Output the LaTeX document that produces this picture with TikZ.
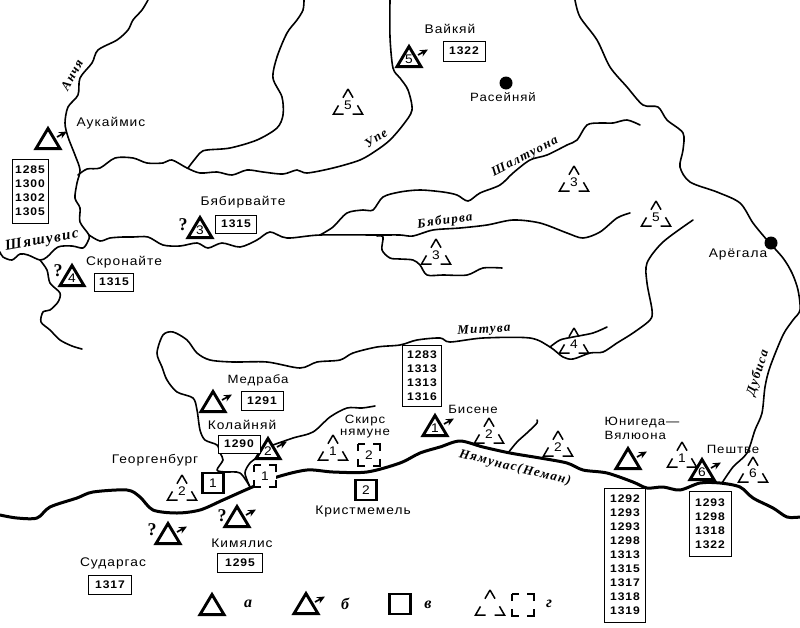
\documentclass[tikz,border=0pt]{standalone}
\usepackage{fontspec}
\setmainfont[FakeStretch=1.1,LetterSpace=8]{Liberation Sans}
\newfontfamily\riverfont[LetterSpace=10]{Liberation Serif}
\usetikzlibrary{arrows.meta}
\tikzset{
  river/.style={line width=1.6pt,line join=round,line cap=round},
  bigriver/.style={line width=3pt,line join=round,line cap=round},
  sitetri/.style={draw,fill=white,line width=2.9pt,line join=miter},
  dashtri/.style={draw,line width=1.5pt,dash pattern=on 20pt off 8.9pt,dash phase=10pt},
  sitesq/.style={draw,fill=white,line width=2.8pt},
  dashsq/.style={draw,fill=white,line width=1.5pt,dash pattern=on 14pt off 8pt,dash phase=7pt},
  siteno/.style={font=\fontsize{12.5}{12}\selectfont,inner sep=0pt},
  placename/.style={font=\fontsize{12.5}{12.5}\selectfont,align=center,inner sep=0pt},
  datebox/.style={draw,fill=white,line width=0.9pt,inner sep=0pt,align=center,
    font=\fontsize{11}{14}\selectfont\bfseries},
  rivername/.style={font=\fontsize{13}{13}\selectfont\riverfont\itshape\bfseries,inner sep=0pt},
  legendname/.style={font=\fontsize{16}{16}\selectfont\riverfont\itshape\bfseries,inner sep=0pt},
  query/.style={font=\fontsize{18}{18}\selectfont\riverfont\bfseries,inner sep=0pt},
  towndot/.style={fill=black,circle,minimum size=13pt,inner sep=0pt},
  findarrow/.style={-{Stealth[length=8pt,width=7pt]},line width=1.7pt}
}
\begin{document}
\begin{tikzpicture}[x=1pt,y=-1pt]
  \useasboundingbox (0,0) rectangle (800,627);
  % rivers
  \draw[river] plot[smooth,tension=0.5] coordinates {(148,0) (142,10) (133,20) (128,30) (117,40) (98,50) (92,63) (80,78) (78,95) (68,107) (65,123) (68,137) (75,155) (80,170) (77,183) (75,198) (80,208) (80,222) (89,235) (88,241) (83,248) (72,246) (58,247) (47,257) (40,260) (28,255) (20,254) (12,260) (3,257) (0,252)};
  \draw[river] plot[smooth,tension=0.5] coordinates {(40,260) (47,270) (50,283) (60,293) (58,302) (50,310) (43,312) (41,322) (50,330) (60,340) (72,346) (82,349)};
  \draw[river] plot[smooth,tension=0.5] coordinates {(78,175) (87,169) (100,168) (115,158) (133,158) (147,163) (163,163) (172,160) (187,168) (200,173) (217,172) (232,175) (247,170) (263,172) (283,174) (297,170) (307,173) (333,168) (360,160) (377,150) (390,140) (403,125) (412,110) (408,90) (400,78) (393,68) (390,37) (390,0)};
  \draw[river] plot[smooth,tension=0.5] coordinates {(188,168) (200,153) (207,150) (230,148) (257,140) (277,128) (283,115) (282,97) (273,78) (277,57) (287,33) (297,20) (303,10) (304,0)};
  \draw[river] plot[smooth,tension=0.5] coordinates {(89,235) (100,241) (110,238) (123,237) (133,237) (148,237) (163,245) (180,246) (197,243) (208,248) (222,243) (240,247) (257,240) (270,232) (287,238) (320,235) (377,235) (400,235) (413,236) (433,230) (460,228) (487,225) (513,220) (540,223) (567,233) (583,238) (600,232) (617,218) (630,213)};
  \draw[river] plot[smooth,tension=0.5] coordinates {(320,235) (333,227) (347,213) (363,210) (373,210) (383,197) (400,192) (420,190) (443,192) (457,195) (468,201) (480,193) (500,185) (513,173) (530,160) (547,155) (567,145) (577,140) (587,125) (600,123) (613,123) (627,120) (640,125)};
  \draw[river] plot[smooth,tension=0.5] coordinates {(377,236) (383,237) (382,250) (390,258) (400,259) (413,260) (420,265) (427,275) (443,275) (467,275) (483,268) (502,268)};
  \draw[river] plot[smooth,tension=0.5] coordinates {(575,0) (580,17) (597,40) (610,67) (627,87) (643,105) (658,107) (667,120) (683,133) (683,150) (680,167) (690,182) (717,192) (740,203) (753,223) (767,240) (783,258) (792,273) (798,290) (800,310) (793,320) (783,335) (770,367) (765,387) (762,413) (755,430) (747,453) (733,467) (722,483)};
  \draw[river] plot[smooth,tension=0.5] coordinates {(250,487) (240,473) (225,472) (217,470) (223,460) (220,453) (217,445) (205,440) (200,430) (197,410) (193,398) (177,392) (167,380) (162,367) (157,353) (163,335) (173,332) (187,340) (197,353) (210,360) (233,362) (267,362) (300,368) (317,362) (340,360) (353,353) (377,347) (400,345) (417,340) (440,338) (450,342) (483,338) (530,338) (550,347) (563,357) (573,359) (590,353) (603,352) (617,343) (633,333) (650,320) (652,310) (647,283) (647,263) (663,242) (693,220)};
  \draw[river] plot[smooth,tension=0.5] coordinates {(550,347) (560,340) (573,337) (593,333) (607,327)};
  \draw[river] plot[smooth,tension=0.5] coordinates {(250,487) (245,473) (250,463) (258,457)};
  \draw[river] plot[smooth,tension=0.5] coordinates {(273,445) (293,438) (313,432) (330,417) (347,408) (362,408) (375,406)};
  \draw[river] plot[smooth,tension=0.5] coordinates {(508,453) (517,442) (528,432) (537,423) (537,420)};
  \draw[bigriver] plot[smooth,tension=0.5] coordinates {(0,515) (17,518) (37,518) (50,507) (77,498) (93,492) (127,490) (140,497) (153,510) (177,513) (200,510) (223,500) (250,488) (277,477) (307,470) (333,472) (367,472) (400,463) (420,453) (440,447) (460,441) (483,447) (510,453) (540,458) (567,463) (583,470) (607,473) (633,482) (647,488) (663,487) (680,490) (700,483) (720,483) (740,487) (753,498) (773,508) (787,517) (800,517)};
  % finds with arrow, then without
  \foreach \px/\py/\num/\nm in {48/150//aukaimis,409/68/5/vaikiai,213/413//medraba,268/460/2/kolainiai,168/545//sudargas,237/528//kimialis,306/615//legendb,435/437/1/bisene,628/470//unigeda,702/481/6/peshtve} {
    \draw[sitetri] (\px-12,\py-1.4) -- (\px,\py-21.5) -- (\px+12,\py-1.4) -- cycle;
    \node[siteno] (tri\nm) at (\px,\py-9) {\num};
    \draw[findarrow] (\px+9,\py-13) -- (\px+19,\py-18.5);
  }
  \foreach \px/\py/\num/\nm in {200/239/3/biabirvaite,72/287/4/skronaite,212/616//legenda} {
    \draw[sitetri] (\px-12,\py-1.4) -- (\px,\py-21.5) -- (\px+12,\py-1.4) -- cycle;
    \node[siteno] (tri\nm) at (\px,\py-9) {\num};
  }
  % dashed triangles
  \foreach \px/\py/\num/\nm in {348/114/5/a,574/191/3/b,656/226/5/c,436/264/3/d,574/353/4/e,182/500/2/f,333/460/1/g,489/443/2/h,558/456/2/i,682/467/1/j,753/482/6/k,490/615//legendg} {
    \draw[dashtri] (\px,\py-25) -- (\px+14.5,\py) -- (\px-14.5,\py) -- cycle;
    \node[siteno] (dash\nm) at (\px,\py-9) {\num};
  }
  % squares
  \foreach \px/\py/\num/\nm in {213/483/1/georgenburg,366/490/2/kristmemel,400/604//legendv} {
    \draw[sitesq] (\px-10.5,\py-10) rectangle (\px+10.5,\py+10);
    \node[siteno] (sq\nm) at (\px,\py) {\num};
  }
  \foreach \px/\py/\num/\nm in {265/476/1/a,369/455/2/b,523/605//legendg} {
    \draw[dashsq] (\px-11,\py-11) rectangle (\px+11,\py+11);
    \node[siteno] (dsq\nm) at (\px,\py) {\num};
  }
  % date boxes
  \node[datebox,minimum width=36pt,minimum height=64pt] (d1) at (30,191) {1285\\1300\\1302\\1305};
  \node[datebox,minimum width=42pt,minimum height=20pt] (d2) at (464,51) {1322};
  \node[datebox,minimum width=41pt,minimum height=18pt] (d3) at (236,224) {1315};
  \node[datebox,minimum width=39pt,minimum height=18pt] (d4) at (114,282) {1315};
  \node[datebox,minimum width=39pt,minimum height=61pt] (d5) at (422,376) {1283\\1313\\1313\\1316};
  \node[datebox,minimum width=42pt,minimum height=19pt] (d6) at (262,401) {1291};
  \node[datebox,minimum width=42pt,minimum height=18pt] (d7) at (239,444) {1290};
  \node[datebox,minimum width=45pt,minimum height=19pt] (d8) at (240,563) {1295};
  \node[datebox,minimum width=43pt,minimum height=19pt] (d9) at (110,585) {1317};
  \node[datebox,minimum width=41pt,minimum height=134pt] (d10) at (625,555) {1292\\1293\\1293\\1298\\1313\\1315\\1317\\1318\\1319};
  \node[datebox,minimum width=42pt,minimum height=65pt] (d11) at (710,524) {1293\\1298\\1318\\1322};
  % towns
  \node[towndot] (raseiniai) at (506,83) {};
  \node[towndot] (aregala) at (771,243) {};
  \node[placename] (n1) at (111,123) {Аукаймис};
  \node[placename] (n2) at (243,202) {Бябирвайте};
  \node[placename] (n3) at (124,262) {Скронайте};
  \node[placename] (n4) at (450,29) {Вайкяй};
  \node[placename,font=\fontsize{12}{12}\selectfont] (n5) at (503,97) {Расейняй};
  \node[placename] (n6) at (738,254) {Арёгала};
  \node[placename,font=\fontsize{12}{12}\selectfont] (n7) at (258,380) {Медраба};
  \node[placename] (n8) at (242,425) {Колайняй};
  \node[placename] (n9) at (155,460) {Георгенбург};
  \node[placename,font=\fontsize{12}{12}\selectfont] (n10) at (365,427) {Скирс\\нямуне};
  \node[placename] (n11) at (363,511) {Кристмемель};
  \node[placename] (n12) at (242,543) {Кимялис};
  \node[placename] (n13) at (113,563) {Сударгас};
  \node[placename,font=\fontsize{12}{12}\selectfont] (n14) at (473,409) {Бисене};
  \node[placename,font=\fontsize{12}{14}\selectfont,align=left] (n15) at (642,428) {Юнигеда—\\Вялюона};
  \node[placename,font=\fontsize{12}{12}\selectfont] (n16) at (733,449) {Пештве};
  % query marks
  \node[query] (q1) at (183,225) {?};
  \node[query] (q2) at (58,271) {?};
  \node[query] (q3) at (152,530) {?};
  \node[query] (q4) at (222,516) {?};
  % river names
  \node[rivername,rotate=62] (r1) at (72,75) {Анчя};
  \node[rivername,rotate=10,font=\fontsize{15}{15}\selectfont\riverfont\itshape\bfseries] (r2) at (42,241) {Шяшувис};
  \node[rivername,rotate=33] (r3) at (376,138) {Упе};
  \node[rivername,rotate=27] (r4) at (525,157) {Шалтуона};
  \node[rivername,rotate=8] (r5) at (445,221) {Бябирва};
  \node[rivername,rotate=3] (r6) at (484,330) {Митува};
  \node[rivername,rotate=-14] (r7) at (515,468) {Нямунас(Неман)};
  \node[rivername,rotate=72] (r8) at (758,373) {Дубиса};
  % legend
  \node[legendname] (la) at (248,604) {а};
  \node[legendname] (lb) at (345,604) {б};
  \node[legendname] (lv) at (428,605) {в};
  \node[legendname] (lg) at (549,604) {г};
\end{tikzpicture}
\end{document}
